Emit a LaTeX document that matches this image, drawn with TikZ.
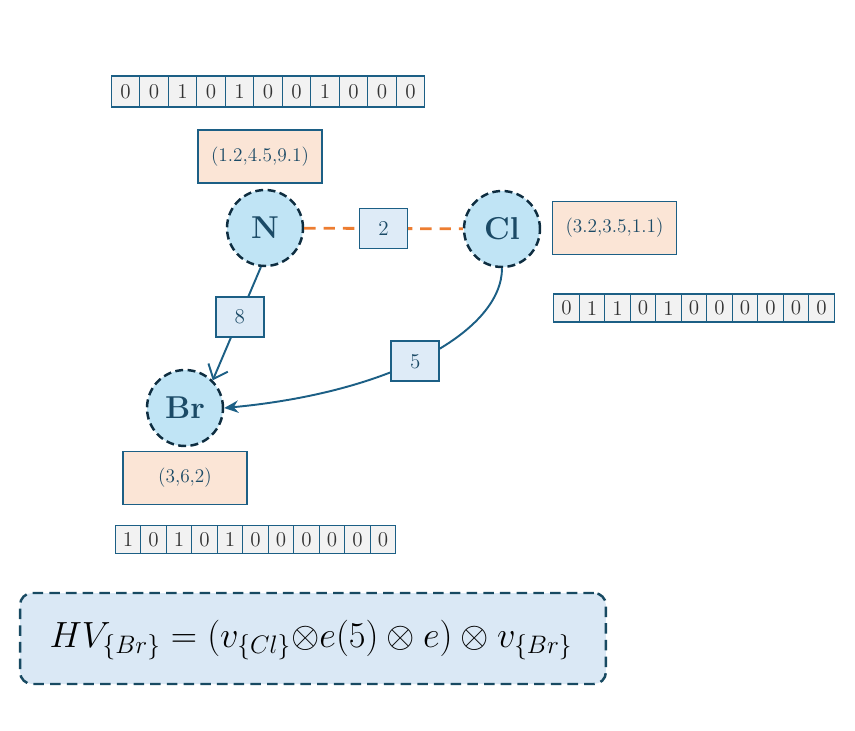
\documentclass[tikz,border=0pt]{standalone}
\usepackage{amsmath}
\usetikzlibrary{arrows.meta}
\definecolor{peach}{HTML}{FBE5D6}
\definecolor{edgeblue}{HTML}{1C5F85}
\definecolor{atomfill}{HTML}{C0E4F5}
\definecolor{atomline}{HTML}{0E2D40}
\definecolor{tagfill}{HTML}{DEEBF7}
\definecolor{bondorange}{HTML}{ED7D31}
\definecolor{hvfill}{HTML}{DAE8F5}
\definecolor{hvline}{HTML}{184A62}
\definecolor{inkblue}{HTML}{1B4A66}
\definecolor{bitgray}{HTML}{F2F2F2}

\begin{document}
\begin{tikzpicture}[x=0.02cm,y=-0.02cm,
  atom/.style={circle,draw=atomline,fill=atomfill,line width=1.4pt,dash pattern=on 4.5pt off 2.5pt,minimum size=1.52cm,inner sep=0pt,font=\fontsize{18}{20}\selectfont\bfseries,text=inkblue},
  coordbox/.style={rectangle,draw=edgeblue,fill=peach,line width=1.1pt,minimum width=2.48cm,minimum height=1.06cm,font=\fontsize{11}{13}\selectfont,text=inkblue},
  weight/.style={rectangle,draw=edgeblue,fill=tagfill,line width=1.1pt,minimum width=0.96cm,minimum height=0.8cm,font=\large,text=inkblue},
  bit/.style={rectangle,draw=edgeblue,fill=bitgray,line width=0.6pt,inner sep=0pt,font=\large,text=black!80}]
\useasboundingbox (0,0) rectangle (855,730);

\node[atom] (N) at (265,228) {N};
\node[atom] (Cl) at (502,229) {Cl};
\node[atom] (Br) at (185,408) {Br};

\node[coordbox] (xN) at (260,156.5) {(1.2,4.5,9.1)};
\node[coordbox] (xCl) at (614.5,228) {(3.2,3.5,1.1)};
\node[coordbox] (xBr) at (185,478) {(3,6,2)};

\draw[bondorange,line width=1.6pt,dash pattern=on 6.5pt off 4.5pt] (N) -- node[weight,solid] (w2) {2} (Cl);
\draw[edgeblue,line width=1.1pt,-{Straight Barb[length=7pt,width=12pt]}] (N.-96) -- node[weight,pos=0.44] (w8) {8} (Br.45);
\draw[edgeblue,line width=1.1pt,-{Stealth[length=8pt,width=7pt]}] (Cl.south) .. controls (502,330) and (395,392) .. node[weight,pos=0.54] (w5) {5} (Br.east);

\matrix[column sep=-0.6pt] (bitsN) at (268,91.5) {
\node[bit,minimum width=0.57cm,minimum height=0.62cm]{0}; & \node[bit,minimum width=0.57cm,minimum height=0.62cm]{0}; &
\node[bit,minimum width=0.57cm,minimum height=0.62cm]{1}; & \node[bit,minimum width=0.57cm,minimum height=0.62cm]{0}; &
\node[bit,minimum width=0.57cm,minimum height=0.62cm]{1}; & \node[bit,minimum width=0.57cm,minimum height=0.62cm]{0}; &
\node[bit,minimum width=0.57cm,minimum height=0.62cm]{0}; & \node[bit,minimum width=0.57cm,minimum height=0.62cm]{1}; &
\node[bit,minimum width=0.57cm,minimum height=0.62cm]{0}; & \node[bit,minimum width=0.57cm,minimum height=0.62cm]{0}; &
\node[bit,minimum width=0.57cm,minimum height=0.62cm]{0}; \\
};
\matrix[column sep=-0.6pt] (bitsCl) at (694,308) {
\node[bit,minimum width=0.51cm,minimum height=0.56cm]{0}; & \node[bit,minimum width=0.51cm,minimum height=0.56cm]{1}; &
\node[bit,minimum width=0.51cm,minimum height=0.56cm]{1}; & \node[bit,minimum width=0.51cm,minimum height=0.56cm]{0}; &
\node[bit,minimum width=0.51cm,minimum height=0.56cm]{1}; & \node[bit,minimum width=0.51cm,minimum height=0.56cm]{0}; &
\node[bit,minimum width=0.51cm,minimum height=0.56cm]{0}; & \node[bit,minimum width=0.51cm,minimum height=0.56cm]{0}; &
\node[bit,minimum width=0.51cm,minimum height=0.56cm]{0}; & \node[bit,minimum width=0.51cm,minimum height=0.56cm]{0}; &
\node[bit,minimum width=0.51cm,minimum height=0.56cm]{0}; \\
};
\matrix[column sep=-0.6pt] (bitsBr) at (255.5,539.5) {
\node[bit,minimum width=0.51cm,minimum height=0.56cm]{1}; & \node[bit,minimum width=0.51cm,minimum height=0.56cm]{0}; &
\node[bit,minimum width=0.51cm,minimum height=0.56cm]{1}; & \node[bit,minimum width=0.51cm,minimum height=0.56cm]{0}; &
\node[bit,minimum width=0.51cm,minimum height=0.56cm]{1}; & \node[bit,minimum width=0.51cm,minimum height=0.56cm]{0}; &
\node[bit,minimum width=0.51cm,minimum height=0.56cm]{0}; & \node[bit,minimum width=0.51cm,minimum height=0.56cm]{0}; &
\node[bit,minimum width=0.51cm,minimum height=0.56cm]{0}; & \node[bit,minimum width=0.51cm,minimum height=0.56cm]{0}; &
\node[bit,minimum width=0.51cm,minimum height=0.56cm]{0}; \\
};

\node[rectangle,rounded corners=0.24cm,draw=hvline,fill=hvfill,line width=1.4pt,dash pattern=on 6pt off 3.5pt,minimum width=11.72cm,minimum height=1.82cm] (hvbox) at (313,638.5) {};
\node[font=\fontsize{22}{26}\selectfont] (hv) at (311,640) {$HV_{\{Br\}} = (v_{\{Cl\}}{\otimes}e(5) \otimes e) \otimes v_{\{Br\}}$};

\end{tikzpicture}
\end{document}
